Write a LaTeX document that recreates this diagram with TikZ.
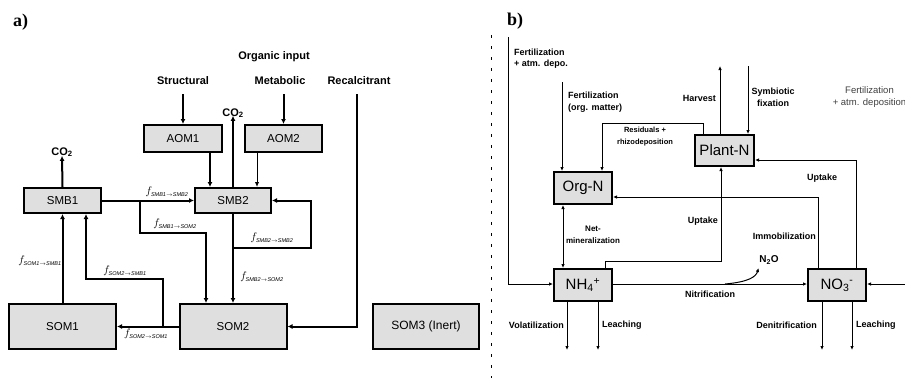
\documentclass[tikz,border=0pt]{standalone}
\usepackage{fontspec}
\setmainfont{Liberation Sans}
\newfontfamily\serifbf{Liberation Serif}
\usetikzlibrary{arrows.meta}
\begin{document}
\begin{tikzpicture}[x=1pt,y=-1pt,
  box/.style={draw, line width=2pt, fill=gray!25, inner sep=0pt},
  boxa/.style={box, font=\fontsize{11.5}{12}\selectfont},
  boxb/.style={box, font=\fontsize{15}{16}\selectfont, minimum width=58pt, minimum height=32pt},
  lnA/.style={line width=2pt, -{Latex[length=5pt,width=5pt]}},
  lnAthin/.style={line width=1pt, -{Latex[length=5pt,width=4.5pt]}},
  lnC/.style={line width=1pt, -{Latex[length=4pt,width=3.5pt]}},
  lblA/.style={font=\bfseries\fontsize{11}{13}\selectfont, inner sep=0pt},
  lblB/.style={font=\bfseries\fontsize{9}{11}\selectfont, inner sep=0pt},
  flbl/.style={font=\fontsize{11}{11}\selectfont, inner sep=0pt},
  panel/.style={font=\serifbf\bfseries\fontsize{18}{20}\selectfont, inner sep=0pt},
  divider/.style={line width=1pt, dash pattern=on 3pt off 8pt}
]
\useasboundingbox (0,0) rectangle (905,378);

% ---------- panel a ----------
\node[panel] (pa) at (20.5,22.5) {a)};
\node[lblA] (orginput) at (274,57) {Organic input};
\node[lblA] (struct) at (183,81) {Structural};
\node[lblA] (metab) at (280,81) {Metabolic};
\node[lblA] (recal) at (359,81) {Recalcitrant};

\node[boxa, minimum width=78pt, minimum height=27pt] (aom1) at (183,138.5) {AOM1};
\node[boxa, minimum width=77pt, minimum height=27pt] (aom2) at (283.5,138.5) {AOM2};
\node[boxa, minimum width=77pt, minimum height=25pt] (smb1) at (62.5,200.5) {SMB1};
\node[boxa, minimum width=76pt, minimum height=25pt] (smb2) at (233,200.5) {SMB2};
\node[boxa, minimum width=107pt, minimum height=45pt] (som1) at (62.5,326.5) {SOM1};
\node[boxa, minimum width=107pt, minimum height=45pt] (som2) at (233,326.5) {SOM2};
\node[boxa, minimum width=106pt, minimum height=45pt, font=\fontsize{12}{13}\selectfont] (som3) at (426,326.5) {SOM3 (Inert)};

\node[lblA] (co2a) at (62,152) {CO\textsubscript{2}};
\node[lblA] (co2b) at (233,113) {CO\textsubscript{2}};

\coordinate (structtop) at (183,94);
\coordinate (metabtop) at (283.5,94);
\coordinate (recaltop) at (357,94);
\draw[lnA] (structtop) -- (aom1.north);
\draw[lnA] (metabtop) -- (aom2.north);
\draw[lnA] (recaltop) |- (som2.east);
\draw[lnA] ([xshift=27pt]aom1.south) -- ([xshift=-23pt]smb2.north);
\draw[lnAthin] ([xshift=-26.5pt]aom2.south) -- ([xshift=24pt]smb2.north);
\draw[lnA] (smb2.north) -- ([yshift=2pt]co2b.south);
\draw[lnA] (smb1.north) -- ([yshift=1pt]co2a.south);
\draw[lnA] (smb1.east) -- (smb2.west);
\coordinate (br1) at (140,200.5);
\draw[lnA] (br1) -- (140,233) -| ([xshift=-27pt]som2.north);
\draw[lnA] (smb2.south) -- (som2.north);
\coordinate (loopst) at (233,248);
\draw[lnA] (loopst) -| (311,200.5) -- (smb2.east);
\draw[lnA] (som1.north) -- (smb1.south);
\draw[lnA] (som2.west) -- (som1.east);
\coordinate (j2) at (163,326.5);
\draw[lnA] (j2) -- (163,279) -| ([xshift=23.5pt]smb1.south);

\node[flbl] (f1) at (167,192) {$f_{\scriptscriptstyle\mathit{SMB1}\rightarrow\mathit{SMB2}}$};
\node[flbl] (f2) at (175,224) {$f_{\scriptscriptstyle\mathit{SMB1}\rightarrow\mathit{SOM2}}$};
\node[flbl] (f3) at (272,238) {$f_{\scriptscriptstyle\mathit{SMB2}\rightarrow\mathit{SMB2}}$};
\node[flbl] (f4) at (262,277) {$f_{\scriptscriptstyle\mathit{SMB2}\rightarrow\mathit{SOM2}}$};
\node[flbl] (f5) at (40,261) {$f_{\scriptscriptstyle\mathit{SOM1}\rightarrow\mathit{SMB1}}$};
\node[flbl] (f6) at (125,271) {$f_{\scriptscriptstyle\mathit{SOM2}\rightarrow\mathit{SMB1}}$};
\node[flbl] (f7) at (146,334) {$f_{\scriptscriptstyle\mathit{SOM2}\rightarrow\mathit{SOM1}}$};

% divider
\coordinate (dtop) at (491,35);
\coordinate (dbot) at (491,378);
\draw[divider] (dtop) -- (dbot);

% ---------- panel b ----------
\node[panel] (pb) at (515,21.5) {b)};
\node[boxb] (orgn) at (583,188) {Org-N};
\node[boxb, minimum width=59pt, minimum height=31pt] (plantn) at (724.5,150.5) {Plant-N};
\node[boxb] (nh4) at (583,285) {NH\textsubscript{4}\textsuperscript{+}};
\node[boxb] (no3) at (837,285) {NO\textsubscript{3}\textsuperscript{-}};

\coordinate (ltop) at (508,37);
\draw[lnC] (ltop) |- ([yshift=1pt]nh4.west);
\coordinate (fotop) at (562,82);
\draw[lnC] (fotop) -- ([xshift=-21pt]orgn.north);
\draw[lnC] ([xshift=-21.5pt]plantn.north) -- ++(0,-11) -| ([xshift=19pt]orgn.north);
\coordinate (harvtop) at (720,66);
\draw[lnC] ([xshift=-4.5pt]plantn.north) -- (harvtop);
\coordinate (symtop) at (748,66);
\draw[lnC] (symtop) -- ([xshift=23.5pt]plantn.north);
\draw[lnC] ([xshift=19pt]no3.north) |- ([yshift=-9.5pt]plantn.east);
\draw[lnC] ([xshift=-19pt]no3.north) |- ([yshift=-9pt]orgn.east);
\draw[lnC] ([xshift=22pt]nh4.north) -- ++(0,-7) -| ([xshift=-3.5pt]plantn.south);
\draw[line width=1pt, {Latex[length=4pt,width=3.5pt]}-{Latex[length=4pt,width=3.5pt]}] ([xshift=-20pt]orgn.south) -- ([xshift=-20pt]nh4.north);
\draw[lnC] ([yshift=1pt]nh4.east) -- ([yshift=1pt]no3.west);
\node[lblB, font=\bfseries\fontsize{10}{11}\selectfont] (n2o) at (769,260) {N\textsubscript{2}O};
\coordinate (n2ost) at (725,284);
\coordinate (n2otip) at (758.5,268);
\draw[lnC] (n2ost) .. controls (748,282) and (756,277) .. (n2otip);
\coordinate (rin) at (905,284);
\draw[lnC] (rin) -- ([yshift=1pt]no3.east);
\coordinate (b1) at (567,350);
\coordinate (b2) at (598,350);
\coordinate (b3) at (822,350);
\coordinate (b4) at (852,350);
\draw[lnC] ([xshift=-16pt]nh4.south) -- (b1);
\draw[lnC] ([xshift=15pt]nh4.south) -- (b2);
\draw[lnC] ([xshift=-15pt]no3.south) -- (b3);
\draw[lnC] ([xshift=15pt]no3.south) -- (b4);

\node[lblB, anchor=west, align=left] (fa) at (514,58.5) {Fertilization\\+ atm. depo.};
\node[lblB, anchor=west, align=left, font=\bfseries\fontsize{9}{12}\selectfont] (fo) at (568,102) {Fertilization\\(org. matter)};
\node[lblB, anchor=east] (harv) at (716,98) {Harvest};
\node[lblB, align=center, font=\bfseries\fontsize{9}{12.5}\selectfont] (symb) at (773,97.5) {Symbiotic\\fixation};
\node[lblB, align=center, font=\bfseries\fontsize{7.5}{12}\selectfont] (resid) at (645,137) {Residuals +\\rhizodeposition};
\node[inner sep=0pt, align=center, text=black!75, font=\fontsize{9.5}{12}\selectfont] (fright) at (869.5,97) {Fertilization\\+ atm. deposition};
\node[lblB] (upt1) at (822,178) {Uptake};
\node[lblB, anchor=east] (upt2) at (718,221) {Uptake};
\node[lblB, anchor=east] (immo) at (816,236) {Immobilization};
\node[lblB, align=center, font=\bfseries\fontsize{8}{12}\selectfont] (netmin) at (593,235) {Net-\\mineralization};
\node[lblB] (nitr) at (710,294) {Nitrification};
\node[lblB, anchor=east] (vol) at (564,325) {Volatilization};
\node[lblB, anchor=west] (lea1) at (602,325) {Leaching};
\node[lblB, anchor=east] (denit) at (817,325) {Denitrification};
\node[lblB, anchor=west] (lea2) at (856,325) {Leaching};
\end{tikzpicture}
\end{document}
